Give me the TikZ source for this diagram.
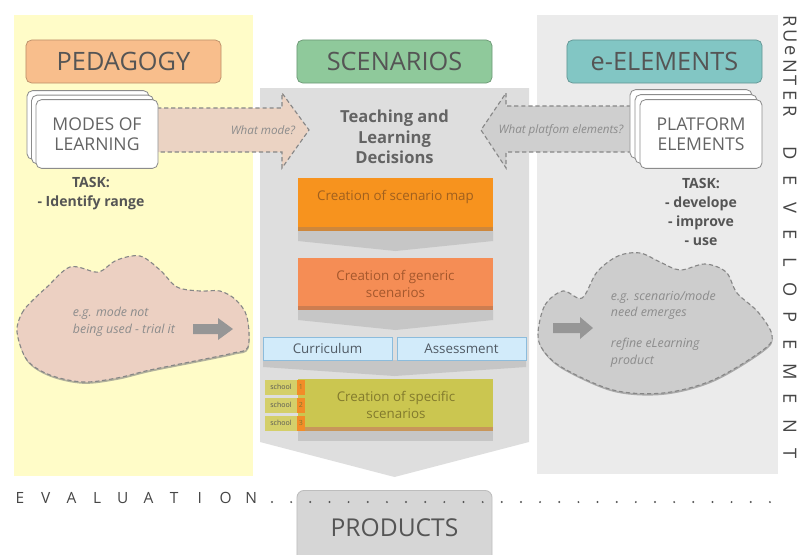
\documentclass[tikz,border=0pt]{standalone}
\usepackage{fontspec}
\setmainfont{Open Sans}
\usepackage{tikz}
\usetikzlibrary{positioning,shapes,shadows,calc}

\definecolor{yellowbg}{RGB}{255,252,200}
\definecolor{rightbg}{RGB}{235,235,235}
\definecolor{centerbg}{RGB}{222,222,222}
\definecolor{shadowgray}{RGB}{198,198,198}
\definecolor{pedfill}{RGB}{248,190,140}
\definecolor{scenfill}{RGB}{143,201,155}
\definecolor{elemfill}{RGB}{130,198,196}
\definecolor{mapfill}{RGB}{247,147,30}
\definecolor{mapdark}{RGB}{205,135,60}
\definecolor{maptext}{RGB}{160,96,30}
\definecolor{genfill}{RGB}{245,141,85}
\definecolor{gendark}{RGB}{205,125,80}
\definecolor{gentext}{RGB}{165,88,45}
\definecolor{curfill}{RGB}{210,235,250}
\definecolor{curline}{RGB}{140,188,220}
\definecolor{curtext}{RGB}{80,90,100}
\definecolor{specfill}{RGB}{203,198,80}
\definecolor{specdark}{RGB}{200,150,90}
\definecolor{spectext}{RGB}{130,122,45}
\definecolor{schoolfill}{RGB}{212,207,106}
\definecolor{schoolnum}{RGB}{242,140,40}
\definecolor{askl}{RGB}{235,211,195}
\definecolor{askr}{RGB}{207,207,207}
\definecolor{cloudl}{RGB}{236,208,194}
\definecolor{cloudr}{RGB}{205,205,205}
\definecolor{dashcol}{RGB}{135,135,135}
\definecolor{cardline}{RGB}{140,140,140}
\definecolor{prodfill}{RGB}{214,214,214}
\definecolor{prodline}{RGB}{189,189,189}
\definecolor{darktext}{RGB}{85,85,85}
\definecolor{midtext}{RGB}{100,100,100}
\definecolor{lighttext}{RGB}{140,140,140}
\definecolor{minigray}{RGB}{150,150,150}
\definecolor{sidetext}{RGB}{70,70,70}

\begin{document}
\begin{tikzpicture}[x=0.025cm,y=-0.025cm,
    hdr/.style={draw=#1!75!black, fill=#1, rounded corners=4pt, line width=0.5pt,
        minimum width=4.875cm, minimum height=1.075cm, text=darktext,
        font=\fontsize{18}{20}\selectfont},
    card/.style={draw=cardline, fill=white, rounded corners=4pt, line width=0.6pt,
        minimum width=3.05cm, minimum height=1.72cm, align=center, text=midtext,
        font=\fontsize{12.5}{14.5}\selectfont},
    dashline/.style={draw=dashcol, dash pattern=on 3pt off 2pt, line width=0.8pt},
    asktxt/.style={text=lighttext, font=\fontsize{8.3}{10}\itshape\selectfont},
    tasktxt/.style={align=center, text=darktext, font=\fontsize{10}{13.3}\bfseries\selectfont},
    boxtxt/.style={align=center, font=\fontsize{9.5}{11.5}\selectfont},
    duobox/.style={draw=curline, fill=curfill, line width=0.5pt, minimum width=3.225cm,
        minimum height=0.575cm, boxtxt, text=curtext},
    schooltab/.style={fill=schoolfill, minimum width=0.8cm, minimum height=0.375cm,
        inner sep=0pt, text=darktext, font=\fontsize{5}{6}\selectfont},
    numtab/.style={fill=schoolnum, minimum width=0.2cm, minimum height=0.375cm,
        inner sep=0pt, text=spectext, font=\fontsize{5}{6}\selectfont},
    cloudtxt/.style={align=left, anchor=west, text=lighttext,
        font=\fontsize{8.8}{11.8}\itshape\selectfont},
    spaced/.style={text=sidetext, inner sep=0pt, font=\fontsize{11}{12}\selectfont},
    upright/.style={text=sidetext, inner sep=0pt, rotate=-90, font=\fontsize{13}{13}\selectfont},
]
\useasboundingbox (0,0) rectangle (801,554);

\fill[yellowbg] (14,15) rectangle (253,476);
\fill[rightbg] (537,15) rectangle (778,474);
\fill[centerbg] (260,88) -- (529,88) -- (529,442) -- (394.5,477) -- (260,442) -- cycle;

\node[hdr=pedfill] (ped) at (123.5,61.5) {PEDAGOGY};
\node[hdr=scenfill] (scen) at (394.5,61.5) {SCENARIOS};
\node[hdr=elemfill] (elem) at (664.5,61.5) {e-ELEMENTS};

\filldraw[dashline, fill=askl] (150,108) -- (282,108) -- (282,93) -- (309,130)
    -- (282,168) -- (282,152) -- (150,152) -- cycle;
\filldraw[dashline, fill=askr] (645,106) -- (506,106) -- (506,93) -- (481,130)
    -- (506,168) -- (506,152) -- (645,152) -- cycle;
\node[asktxt] (whatmode) at (263,130) {What mode?};
\node[asktxt] (whatplat) at (561,130) {What platfom elements?};

\node[card] (modes3) at (88,125) {};
\node[card] (modes2) at (92.5,129.5) {};
\node[card] (modes) at (97,134) {MODES OF\\LEARNING};
\node[card] (plat3) at (691,124) {};
\node[card] (plat2) at (696,129) {};
\node[card] (plat) at (701,134) {PLATFORM\\ELEMENTS};

\node[tasktxt] (taskl) at (91,193.5) {TASK:\\- Identify range};
\node[tasktxt] (taskr) at (701,212) {TASK:\\- develope\\- improve\\- use};

\node[align=center, text=midtext, font=\fontsize{11.8}{14.6}\bfseries\selectfont]
    (tld) at (394.5,137) {Teaching and\\Learning\\Decisions};

\fill[shadowgray] (298,231) -- (493,231) -- (493,241) -- (395.5,251) -- (298,241) -- cycle;
\fill[mapfill] (298,178) rectangle (493,231);
\fill[mapdark] (298,227) rectangle (493,231);
\node[boxtxt, text=maptext] (map) at (395.5,197) {Creation of scenario map};

\fill[shadowgray] (298,310) -- (493,310) -- (493,320) -- (395.5,330) -- (298,320) -- cycle;
\fill[genfill] (298,258) rectangle (493,310);
\fill[gendark] (298,306) rectangle (493,310);
\node[boxtxt, text=gentext] (generic) at (395.5,284) {Creation of generic\\scenarios};

\fill[shadowgray] (263,360) -- (526,360) -- (526,367) -- (394.5,376) -- (263,367) -- cycle;
\node[duobox] (curr) at (327.5,348.5) {Curriculum};
\node[duobox] (assess) at (461.5,348.5) {Assessment};

\fill[shadowgray] (298,431) rectangle (493,441);
\fill[specfill] (298,379) rectangle (493,431);
\fill[specdark] (298,427) rectangle (493,431);
\node[boxtxt, text=spectext] (specific) at (396,405) {Creation of specific\\scenarios};
\foreach \n/\y in {1/387,2/405,3/423}{
    \node[schooltab] (school\n) at (281,\y) {school};
    \node[numtab] (num\n) at (301,\y) {\n};
}

\filldraw[dashline, fill=cloudl, drop shadow={shadow xshift=0.3pt, shadow yshift=-1.3pt, fill=gray, opacity=0.6}]
    plot[smooth cycle, tension=0.55] coordinates {(17,332) (22,313) (33,300) (47,287) (70,267)
    (95,272) (103,270) (117,260) (140,256) (160,270) (177,287) (200,291) (220,291) (236,300) (247,317)
    (248,347) (233,353) (200,360) (150,370) (117,378) (83,382) (50,375) (27,360)};
\node[cloudtxt] (trial) at (68,321.5) {e.g. mode not\\being used - trial it};
\fill[minigray] (193,324) -- (218,324) -- (218,318) -- (233,329) -- (218,340) -- (218,334)
    -- (193,334) -- cycle;

\filldraw[dashline, fill=cloudr, drop shadow={shadow xshift=0.3pt, shadow yshift=-1.3pt, fill=gray, opacity=0.6}]
    plot[smooth cycle, tension=0.55] coordinates {(538,333) (545,305) (563,291) (582,298)
    (597,272) (618,256) (640,253) (660,262) (680,270) (705,264) (726,272) (737,293) (758,312)
    (772,335) (763,350) (713,380) (663,393) (613,390) (563,368) (543,350)};
\node[cloudtxt] (refine) at (606,329) {e.g. scenario/mode\\need emerges\\[10pt]refine eLearning\\product};
\fill[minigray] (553,323) -- (580,323) -- (580,317) -- (593,328) -- (580,339) -- (580,333)
    -- (553,333) -- cycle;

\node[draw=prodline, fill=prodfill, rounded corners=5pt, line width=0.6pt, minimum width=4.875cm,
    minimum height=1.85cm, anchor=north, text=darktext, font=\fontsize{17.5}{20}\selectfont]
    (prod) at (394.5,490) {PRODUCTS};

\foreach \ltr [count=\i] in {E,V,A,L,U,A,T,I,O,N}
    \node[spaced] (eval\i) at ({20+25.7*(\i-1)},498) {\ltr};
\foreach \i in {0,...,26}
    \fill[darktext] ({272+19.15*\i},502) circle (1.1);

\foreach \ltr [count=\i] in {R,U,e,N,T,E,R}
    \node[upright] (ru\i) at (790,{21+15*(\i-1)}) {\ltr};
\foreach \ltr [count=\i] in {D,E,V,E,L,O,P,E,M,E,N,T}
    \node[upright] (dev\i) at (790,{153+27.3*(\i-1)}) {\ltr};
\end{tikzpicture}
\end{document}
